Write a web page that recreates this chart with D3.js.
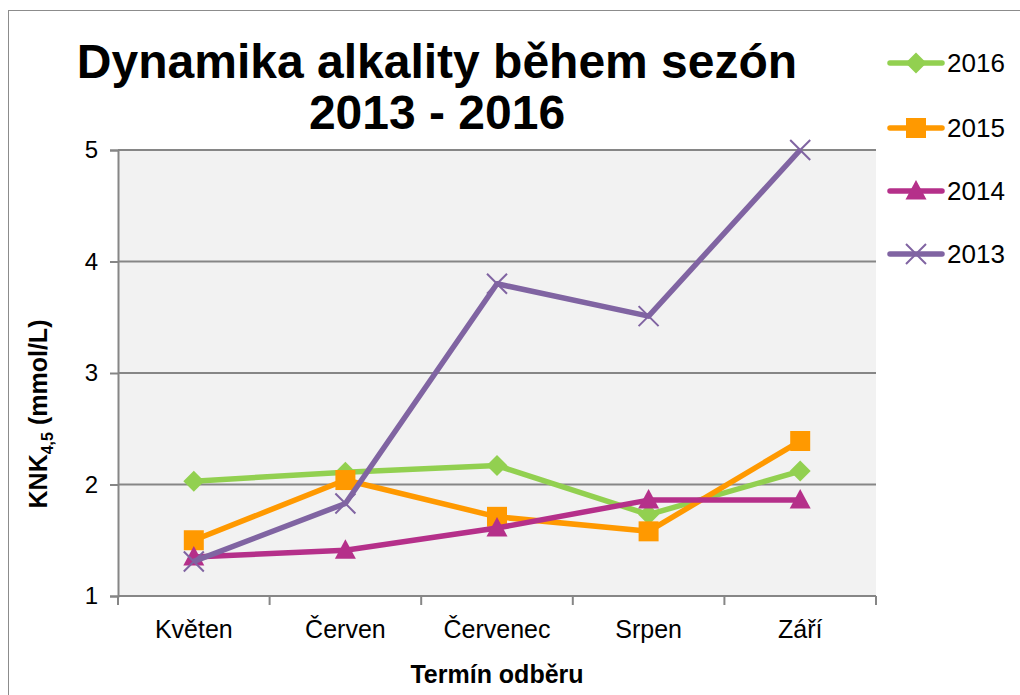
<!DOCTYPE html>
<html>
<head>
<meta charset="utf-8">
<script src="https://cdn.jsdelivr.net/npm/d3@7"></script>
<style>
  html, body { margin: 0; padding: 0; background: #fff; }
  svg { display: block; font-family: "Liberation Sans", Arial, sans-serif; }
</style>
</head>
<body>
<div id="chart"></div>
<script>
const months = ["Květen", "Červen", "Červenec", "Srpen", "Září"]
const seriesNames = ["2016", "2015", "2014", "2013"]
const values2016 = [2.03, 2.11, 2.17, 1.73, 2.12]
const values2015 = [1.50, 2.04, 1.71, 1.58, 2.39]
const values2014 = [1.35, 1.41, 1.61, 1.86, 1.86]
const values2013 = [1.31, 1.83, 3.80, 3.51, 5.00]
const yTicks = [1, 2, 3, 4, 5]

const colors = { "2016": "#92d050", "2015": "#ff9900", "2014": "#b5308a", "2013": "#8064a2" }
const seriesValues = { "2016": values2016, "2015": values2015, "2014": values2014, "2013": values2013 }

const width = 1020
const height = 695
const plot = { left: 118, right: 876, top: 150, bottom: 596 }

const svg = d3.select("#chart").append("svg")
  .attr("width", width)
  .attr("height", height)

// outer chart frame
svg.append("rect")
  .attr("x", 8.5).attr("y", 10.5)
  .attr("width", width + 10).attr("height", height + 10)
  .attr("fill", "#fff")
  .attr("stroke", "#8c8c8c")
  .attr("stroke-width", 1)

const x = d3.scaleBand().domain(months).range([plot.left, plot.right])
const y = d3.scaleLinear().domain([1, 5]).range([plot.bottom, plot.top])
const cx = m => x(m) + x.bandwidth() / 2

svg.append("rect")
  .attr("x", plot.left).attr("y", plot.top)
  .attr("width", plot.right - plot.left).attr("height", plot.bottom - plot.top)
  .attr("fill", "#f2f2f2")

// gridlines
svg.append("g")
  .selectAll("line")
  .data(yTicks.slice(1))
  .join("line")
  .attr("x1", plot.left).attr("x2", plot.right)
  .attr("y1", d => y(d)).attr("y2", d => y(d))
  .attr("stroke", "#868686")
  .attr("stroke-width", 2)

// y axis
const yAxis = svg.append("g")
  .attr("transform", `translate(${plot.left},0)`)
  .call(d3.axisLeft(y).tickValues(yTicks).tickSize(8).tickPadding(12).tickFormat(d3.format("d")))
yAxis.select(".domain").attr("stroke", "#868686").attr("stroke-width", 2)
yAxis.selectAll(".tick line").attr("stroke", "#868686").attr("stroke-width", 2)
yAxis.selectAll(".tick text").attr("font-size", 24).attr("fill", "#000")
  .attr("font-family", "Liberation Sans, Arial, sans-serif")

// x axis, ticks sit between categories
const xAxis = svg.append("g").attr("transform", `translate(0,${plot.bottom})`)
xAxis.append("line")
  .attr("x1", plot.left).attr("x2", plot.right)
  .attr("stroke", "#868686").attr("stroke-width", 2)
const bounds = months.map(m => x(m)).concat([plot.right])
xAxis.selectAll("line.tk")
  .data(bounds)
  .join("line")
  .attr("class", "tk")
  .attr("x1", d => d).attr("x2", d => d)
  .attr("y1", 0).attr("y2", 9)
  .attr("stroke", "#868686").attr("stroke-width", 2)
xAxis.selectAll("text")
  .data(months)
  .join("text")
  .attr("x", d => cx(d))
  .attr("y", 42)
  .attr("text-anchor", "middle")
  .attr("font-size", 25)
  .text(d => d)

const line = d3.line()
  .x((d, i) => cx(months[i]))
  .y(d => y(d))

// Excel-like markers
const markerPath = (name) => {
  if (name === "2016") return "M0,-10.5L10.5,0L0,10.5L-10.5,0Z"
  if (name === "2015") return "M-10,-10H10V10H-10Z"
  if (name === "2014") return "M0,-11L10.5,8.5L-10.5,8.5Z"
  return "M-10,-10L10,10M-10,10L10,-10"
}
const isCross = name => name === "2013"

seriesNames.forEach(name => {
  const vals = seriesValues[name]
  const g = svg.append("g")
  g.append("path")
    .datum(vals)
    .attr("d", line)
    .attr("fill", "none")
    .attr("stroke", colors[name])
    .attr("stroke-width", 5.5)
    .attr("stroke-linejoin", "round")
  g.selectAll("path.mk")
    .data(vals)
    .join("path")
    .attr("class", "mk")
    .attr("transform", (d, i) => `translate(${cx(months[i])},${y(d)})`)
    .attr("d", markerPath(name))
    .attr("fill", isCross(name) ? "none" : colors[name])
    .attr("stroke", isCross(name) ? colors[name] : "none")
    .attr("stroke-width", 2)
})

// title
svg.append("text")
  .attr("x", 437).attr("y", 78)
  .attr("text-anchor", "middle")
  .attr("font-size", 48).attr("font-weight", "bold")
  .text("Dynamika alkality během sezón")
svg.append("text")
  .attr("x", 437).attr("y", 129)
  .attr("text-anchor", "middle")
  .attr("font-size", 48).attr("font-weight", "bold")
  .text("2013 - 2016")

// axis titles
svg.append("text")
  .attr("x", cx("Červenec")).attr("y", 683)
  .attr("text-anchor", "middle")
  .attr("font-size", 25).attr("font-weight", "bold")
  .text("Termín odběru")

const yTitle = svg.append("text")
  .attr("transform", `translate(47,${(plot.top + plot.bottom) / 2 + 41}) rotate(-90)`)
  .attr("text-anchor", "middle")
  .attr("font-size", 25).attr("font-weight", "bold")
yTitle.append("tspan").text("KNK")
yTitle.append("tspan").attr("font-size", 16).attr("dy", 6).text("4,5")
yTitle.append("tspan").attr("dy", -6).text(" (mmol/L)")

// legend
const legendY = [63, 128, 191, 254]
seriesNames.forEach((name, i) => {
  const g = svg.append("g").attr("transform", `translate(0,${legendY[i]})`)
  g.append("line")
    .attr("x1", 890).attr("x2", 942)
    .attr("stroke", colors[name]).attr("stroke-width", 5.5)
    .attr("stroke-linecap", "round")
  g.append("path")
    .attr("transform", "translate(916,0)")
    .attr("d", markerPath(name))
    .attr("fill", isCross(name) ? "none" : colors[name])
    .attr("stroke", isCross(name) ? colors[name] : "none")
    .attr("stroke-width", 2)
  g.append("text")
    .attr("x", 947).attr("y", 9)
    .attr("font-size", 26)
    .text(name)
})
</script>
</body>
</html>
